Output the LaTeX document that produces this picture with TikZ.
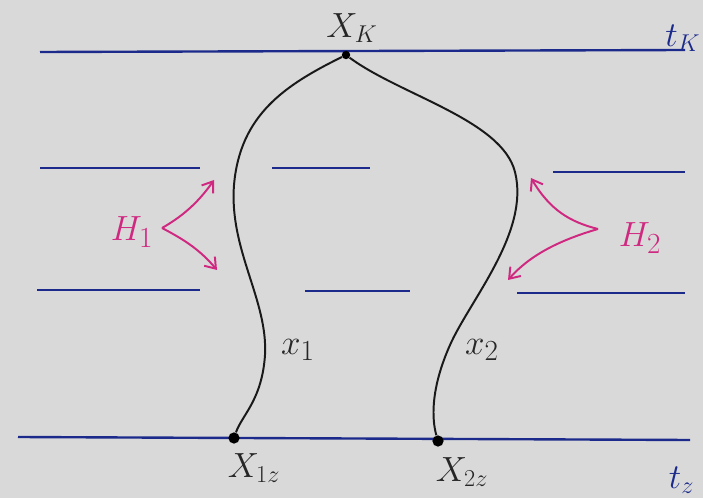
\documentclass[tikz,border=0pt]{standalone}
\usetikzlibrary{arrows.meta}

\definecolor{penblue}{HTML}{1C2A8C}
\definecolor{penpink}{HTML}{D02880}
\definecolor{paper}{HTML}{D9D9D9}

\begin{document}
\begin{tikzpicture}[
  x=0.025cm, y=-0.025cm,
  level/.style  = {draw=penblue, line width=1.7pt},
  path/.style   = {draw=black!90, line width=1.4pt},
  dot/.style    = {circle, fill=black, inner sep=0pt, minimum size=6pt},
  bigdot/.style = {circle, fill=black, inner sep=0pt, minimum size=8pt},
  plbl/.style   = {font=\fontsize{25}{27}\selectfont, text=black!85},
  clbl/.style   = {font=\fontsize{30}{32}\selectfont, text=black!85},
  tlbl/.style   = {font=\fontsize{25}{27}\selectfont, text=penblue},
  hlbl/.style   = {font=\fontsize{32}{34}\selectfont, text=penpink},
  harr/.style   = {-{Straight Barb[length=7pt,width=10pt]}, draw=penpink,
                   line width=1.4pt},
]

\fill[paper] (0,0) rectangle (703,498);
\useasboundingbox (0,0) rectangle (703,498);

% time levels
\draw[level] (40,52) -- (685,50);
\draw[level] (40,168) -- (200,168);
\draw[level] (272,168) -- (370,168);
\draw[level] (553,172) -- (685,172);
\draw[level] (37,290) -- (200,290);
\draw[level] (305,291) -- (410,291);
\draw[level] (517,293) -- (685,293);
\draw[level] (18,437) -- (690,440);

\node[tlbl, anchor=east, inner sep=1pt] (tk) at (702,38) {$t_K$};
\node[tlbl, anchor=west] (tz) at (664,480) {$t_z$};

% end points
\node[dot]    (xk)  at (346,55)  {};
\node[bigdot] (x1z) at (234,438) {};
\node[bigdot] (x2z) at (438,441) {};

\node[plbl] (xklbl)  at (352,28)  {$X_K$};
\node[plbl] (x1zlbl) at (254,468) {$X_{1z}$};
\node[plbl] (x2zlbl) at (462,472) {$X_{2z}$};

% paths
\draw[path] (xk) .. controls (285,85) and (240,115) .. (234,185)
  .. controls (229,250) and (268,300) .. (265,355)
  .. controls (262,400) and (242,415) .. (x1z);
\draw[path] (xk) .. controls (400,95) and (502,120) .. (515,172)
  .. controls (530,232) and (470,300) .. (450,345)
  .. controls (430,390) and (432,420) .. (x2z);

\node[clbl] (x1lbl) at (298,350) {$x_1$};
\node[clbl] (x2lbl) at (482,350) {$x_2$};

% perturbations
\node[hlbl] (h1) at (132,232) {$H_1$};
\node[hlbl] (h2) at (640,238) {$H_2$};
\coordinate (h1tip) at (162,228);
\coordinate (h2tip) at (598,229);
\coordinate (h1up) at (214,180);
\coordinate (h1dn) at (217,270);
\coordinate (h2up) at (531,178);
\coordinate (h2dn) at (508,280);

\draw[harr] (h1tip) .. controls (185,215) and (200,200) .. (h1up);
\draw[harr] (h1tip) .. controls (185,240) and (200,250) .. (h1dn);
\draw[harr] (h2tip) .. controls (570,222) and (550,210) .. (h2up);
\draw[harr] (h2tip) .. controls (560,240) and (530,255) .. (h2dn);

\end{tikzpicture}
\end{document}
